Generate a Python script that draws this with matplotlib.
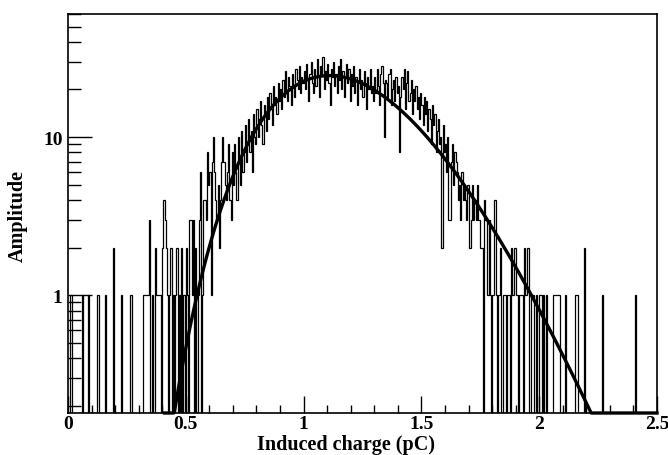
import numpy as np
import matplotlib.pyplot as plt
from matplotlib.ticker import LogLocator, FixedLocator, MultipleLocator, NullFormatter

# Histograma: 500 bins entre 0 y 2.5 pC (ancho 0.005)
x_min, x_max = 0.0, 2.5
n_bins = 500

# cuentas por bin, una fila = 10 bins (0.05 pC)
counts = [
    0, 0, 1, 0, 0, 0, 0, 0, 0, 0,
    0, 0, 1, 0, 0, 0, 0, 1, 0, 0,
    0, 0, 0, 0, 0, 1, 0, 0, 0, 0,
    0, 1, 0, 0, 0, 0, 0, 0, 2, 0,
    0, 0, 0, 0, 0, 1, 0, 0, 0, 0,
    0, 0, 0, 1, 0, 0, 0, 0, 0, 0,
    0, 0, 0, 0, 1, 1, 1, 1, 1, 3,
    0, 1, 0, 0, 2, 1, 1, 1, 1, 0,
    2, 4, 3, 2, 1, 0, 1, 2, 0, 1,
    0, 1, 2, 0, 1, 0, 2, 0, 1, 0,
    2, 1, 0, 3, 3, 1, 3, 0, 2, 0,
    1, 3, 6, 0, 1, 4, 4, 3, 8, 5,
    6, 1, 7, 10, 6, 4, 3, 5, 2, 4,
    7, 10, 7, 5, 4, 6, 9, 4, 3, 8,
    5, 9, 6, 4, 10, 7, 5, 11, 6, 8,
    12, 7, 9, 13, 8, 11, 6, 14, 10, 9,
    15, 10, 13, 17, 12, 9, 16, 14, 11, 18,
    13, 19, 15, 12, 21, 16, 18, 14, 22, 17,
    20, 15, 23, 18, 26, 19, 17, 24, 21, 16,
    25, 21, 18, 27, 23, 20, 28, 19, 24, 22,
    26, 20, 29, 23, 17, 25, 30, 22, 19, 27,
    21, 31, 24, 18, 28, 25, 32, 20, 26, 23,
    29, 22, 16, 27, 24, 30, 21, 25, 19, 28,
    23, 31, 20, 26, 18, 24, 29, 22, 27, 17,
    25, 21, 28, 19, 24, 16, 22, 27, 20, 23,
    18, 26, 22, 15, 24, 20, 27, 19, 21, 17,
    24, 19, 27, 21, 16, 25, 28, 22, 10, 23,
    22, 18, 25, 27, 16, 20, 23, 17, 24, 19,
    21, 8, 18, 24, 20, 27, 15, 22, 26, 17,
    19, 23, 14, 20, 17, 21, 15, 18, 13, 19,
    16, 12, 18, 14, 17, 11, 15, 13, 9, 16,
    12, 14, 8, 11, 13, 9, 10, 2, 12, 8,
    9, 6, 10, 3, 3, 7, 9, 5, 8, 7,
    6, 4, 5, 3, 6, 4, 5, 4, 3, 5,
    2, 2, 3, 5, 3, 4, 3, 5, 3, 3,
    2, 2, 0, 4, 3, 3, 1, 3, 1, 0,
    1, 1, 4, 1, 0, 1, 1, 2, 0, 1,
    1, 1, 0, 1, 1, 0, 2, 1, 1, 2,
    1, 1, 0, 1, 1, 1, 0, 2, 1, 1,
    2, 0, 0, 1, 1, 1, 0, 1, 0, 0,
    1, 1, 0, 1, 0, 0, 1, 0, 0, 0,
    0, 0, 1, 1, 1, 1, 1, 1, 0, 0,
    0, 0, 1, 0, 0, 0, 0, 0, 0, 0,
    1, 1, 1, 0, 0, 0, 0, 0, 2, 0,
    0, 0, 0, 0, 0, 0, 0, 0, 0, 0,
    0, 0, 0, 1, 0, 0, 0, 0, 0, 0,
    0, 0, 0, 0, 0, 0, 0, 0, 0, 0,
    0, 0, 0, 0, 0, 0, 0, 0, 0, 0,
    0, 1, 0, 0, 0, 0, 0, 0, 0, 0,
    0, 0, 0, 0, 0, 0, 0, 0, 0, 0,
]

# parametros del ajuste (Polya)
fit_amp = 24.5
fit_peak = 1.11
fit_k = 16.0
fit_range = (0.41, 2.5)

y_min, y_max = 0.18, 60.0

plt.rcParams['font.family'] = 'Liberation Serif'
plt.rcParams['font.weight'] = 'bold'

fig = plt.figure(figsize=(6.68, 4.56), dpi=100)
ax = fig.add_axes([0.1018, 0.0921, 0.8817, 0.8749])

edges = np.linspace(x_min, x_max, n_bins + 1)
vals = np.array(counts, dtype=float)
vals_plot = np.where(vals > 0, vals, 1e-3)  # bins vacios bajan hasta el borde
ax.stairs(vals_plot, edges, baseline=None, color='black', lw=0.9)

# curva del ajuste
xf = np.linspace(fit_range[0], fit_range[1], 600)
r = xf / fit_peak
yf = fit_amp * np.exp(fit_k * (np.log(r) - r + 1))
ax.plot(xf, np.maximum(yf, y_min), color='black', lw=2.4, clip_on=False, zorder=3)

ax.set_yscale('log')
ax.set_xlim(x_min, x_max)
ax.set_ylim(y_min, y_max)

ax.xaxis.set_major_locator(MultipleLocator(0.5))
ax.xaxis.set_minor_locator(MultipleLocator(0.1))
ax.xaxis.set_major_formatter(plt.FuncFormatter(lambda v, p: f'{v:g}'))
ax.yaxis.set_major_locator(FixedLocator([1, 10]))
ax.yaxis.set_major_formatter(plt.FuncFormatter(lambda v, p: f'{v:g}'))
ax.yaxis.set_minor_locator(LogLocator(base=10, subs=np.arange(2, 10)))
ax.yaxis.set_minor_formatter(NullFormatter())

ax.tick_params(which='both', direction='in', top=False, right=False, width=1.0)
ax.tick_params(axis='x', which='major', length=12, labelsize=14, pad=1.5)
ax.tick_params(axis='x', which='minor', length=6)
ax.tick_params(axis='y', which='major', length=17, labelsize=14, pad=4)
ax.tick_params(axis='y', which='minor', length=9)

for s in ax.spines.values():
    s.set_linewidth(1.2)

ax.set_xlabel('Induced charge (pC)', fontsize=14.5, fontweight='bold')
ax.xaxis.set_label_coords(0.472, -0.077)
ax.xaxis.label.set_va('center')
ax.set_ylabel('Amplitude', fontsize=14.5, fontweight='bold')
ax.yaxis.set_label_coords(-0.085, 0.496)
ax.yaxis.label.set_va('center')

fig.savefig('out.png', dpi=100)
